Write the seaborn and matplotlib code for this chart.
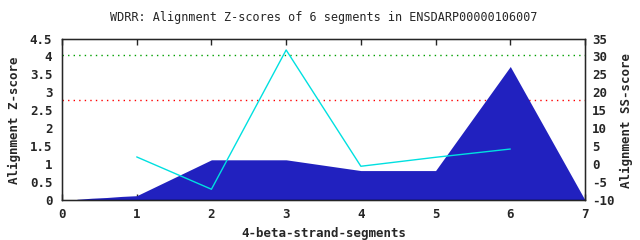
import matplotlib
matplotlib.use("Agg")
import matplotlib.pyplot as plt
import seaborn as sns
import pandas as pd

sns.set_style("white")
plt.rcParams['font.family'] = ['DejaVu Sans Mono', 'DejaVu Sans']

title = "WDRR: Alignment Z-scores of 6 segments in ENSDARP00000106007"
xlabel = "4-beta-strand-segments"
ylabel_left = "Alignment Z-score"
ylabel_right = "Alignment SS-score"

# filled Z-score profile
z_x = [0.2, 0.4, 0.6, 0.8, 1.0, 2.0, 3.0, 4.0, 5.0, 6.0, 7.0]
z_y = [0.02, 0.05, 0.07, 0.1, 0.12, 1.12, 1.12, 0.82, 0.82, 3.72, 0.0]

# SS-score line (right axis)
ss_x = [1, 2, 3, 4, 5, 6]
ss_y = [2.0, -7.0, 31.8, -0.6, 1.9, 4.2]

# threshold lines (left axis)
green_thr = 4.05
red_thr = 2.78

x_ticks = [0, 1, 2, 3, 4, 5, 6, 7]
yl_ticks = [0, 0.5, 1, 1.5, 2, 2.5, 3, 3.5, 4, 4.5]
yl_labels = ["0", "0.5", "1", "1.5", "2", "2.5", "3", "3.5", "4", "4.5"]
yr_ticks = [-10, -5, 0, 5, 10, 15, 20, 25, 30, 35]

fig = plt.figure(figsize=(6.4, 2.4), dpi=100)
ax = fig.add_axes([62/640, 1-200/240, 523/640, 161.5/240])

zdf = pd.DataFrame({"x": z_x, "y": z_y})
ax.fill_between(zdf["x"], 0, zdf["y"], color="#2121bf", linewidth=0, zorder=2)
ax.axhline(green_thr, color="#00a000", linestyle=(0, (1, 3)), linewidth=1, zorder=1)
ax.axhline(red_thr, color="#ff0000", linestyle=(0, (1, 3)), linewidth=1, zorder=1)
ax.set_xlim(0, 7)
ax.set_ylim(0, 4.5)
ax.set_xticks(x_ticks)
ax.set_xticklabels([str(t) for t in x_ticks])
ax.set_yticks(yl_ticks)
ax.set_yticklabels(yl_labels)
ax.tick_params(axis='x', direction='in', length=4, width=1, top=True, bottom=True, pad=6, labelsize=9)
ax.tick_params(axis='y', length=0, pad=7, labelsize=9)
for lab in ax.get_xticklabels() + ax.get_yticklabels():
    lab.set_fontweight('bold')
for s in ax.spines.values():
    s.set_color('black')
    s.set_linewidth(1)

ax2 = ax.twinx()
ssdf = pd.DataFrame({"x": ss_x, "y": ss_y})
sns.lineplot(data=ssdf, x="x", y="y", ax=ax2, color="#00e0e0", linewidth=1, zorder=3)
ax2.set_ylim(-10, 35)
ax2.set_yticks(yr_ticks)
ax2.set_yticklabels([str(t) for t in yr_ticks])
ax2.tick_params(axis='y', length=0, pad=5, labelsize=9)
for lab in ax2.get_yticklabels():
    lab.set_fontweight('bold')
ax2.set_xlabel("")
ax2.set_ylabel("")
ax2.set_xlim(0, 7)

fig.text(324/640, 1-18/240, title, ha='center', va='center', fontsize=8.5)
fig.text(324/640, 1-233/240, xlabel, ha='center', va='center', fontsize=9, fontweight='bold')
fig.text(14/640, 1-120/240, ylabel_left, ha='center', va='center', rotation=90, fontsize=9, fontweight='bold')
fig.text(626/640, 1-120/240, ylabel_right, ha='center', va='center', rotation=90, fontsize=9, fontweight='bold')

fig.savefig("out.png", dpi=100)
